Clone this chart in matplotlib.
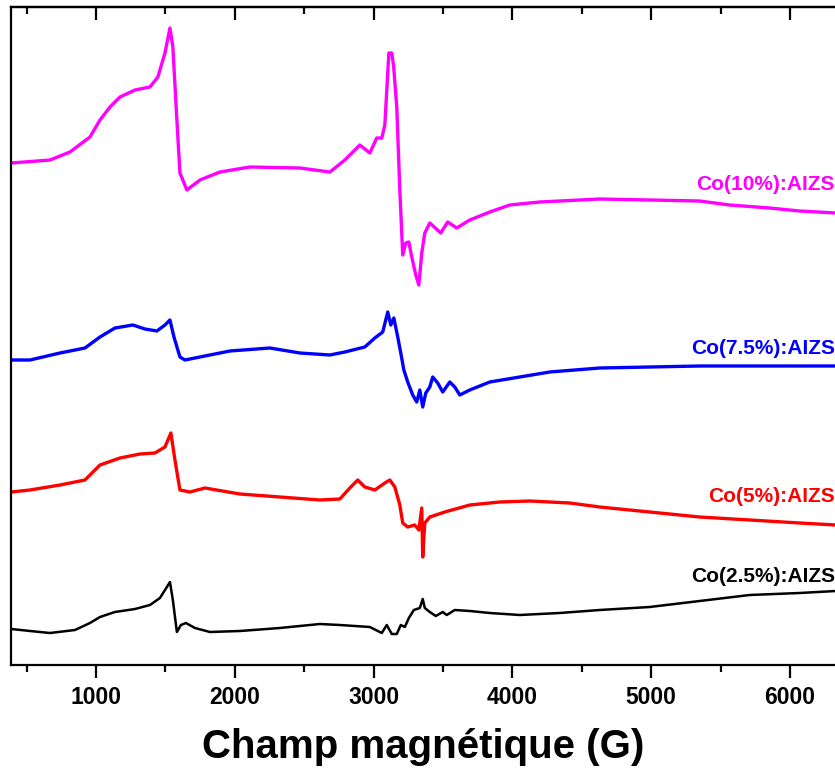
import matplotlib
matplotlib.use('Agg')
import matplotlib.pyplot as plt
from matplotlib.ticker import MultipleLocator

plt.rcParams['font.family'] = ['Liberation Sans', 'DejaVu Sans']
plt.rcParams['font.weight'] = 'bold'

# magnetic field (G) and EPR intensity (a.u., curves stacked with offset)
field_10 = [390, 669, 813, 957, 1029, 1101, 1173, 1281, 1389, 1446, 1497, 1533, 1554, 1583,
            1605, 1655, 1749, 1893, 2109, 2469, 2685, 2793, 2901, 2973, 3023, 3059, 3081,
            3110, 3131, 3145, 3167, 3189, 3210, 3232, 3254, 3275, 3304, 3326, 3347, 3369,
            3405, 3484, 3534, 3599, 3693, 3837, 3981, 4197, 4629, 4989, 5349, 5565, 5853,
            6069, 6330]
int_10 = [502, 505, 513, 528, 545, 558, 568, 575, 578, 588, 612, 637, 618, 545,
          492, 475, 485, 493, 498, 497, 493, 505, 520, 512, 527, 527, 540,
          612, 612, 598, 558, 475, 410, 422, 423, 408, 390, 380, 412, 432,
          442, 432, 443, 437, 445, 453, 460, 463, 466, 465, 464, 460, 457,
          454, 452]

field_75 = [390, 525, 741, 921, 1029, 1137, 1266, 1353, 1439, 1497, 1533, 1562, 1605, 1641,
            1749, 1965, 2253, 2469, 2685, 2793, 2937, 3009, 3066, 3102, 3124, 3146, 3174,
            3196, 3218, 3246, 3282, 3311, 3333, 3354, 3376, 3405, 3426, 3462, 3498, 3549,
            3585, 3621, 3693, 3837, 4053, 4269, 4629, 4989, 5349, 5709, 6330]
int_75 = [305, 305, 312, 317, 328, 337, 340, 336, 334, 340, 345, 328, 308, 305,
          308, 314, 317, 312, 310, 313, 318, 327, 333, 353, 340, 347, 328,
          312, 295, 283, 270, 263, 275, 258, 272, 278, 288, 282, 273, 283,
          278, 270, 275, 283, 288, 293, 297, 298, 299, 299, 299]

field_5 = [390, 525, 741, 921, 1029, 1173, 1317, 1425, 1497, 1540, 1569, 1605, 1677, 1785,
           2037, 2325, 2613, 2757, 2829, 2886, 2937, 3009, 3081, 3117, 3153, 3189, 3210,
           3246, 3297, 3326, 3347, 3354, 3369, 3405, 3513, 3693, 3909, 4125, 4413, 4629,
           4989, 5349, 5709, 6069, 6330]
int_5 = [173, 175, 180, 185, 200, 207, 211, 212, 218, 232, 205, 175, 173, 177,
         171, 168, 165, 166, 177, 185, 178, 175, 182, 185, 178, 160, 142,
         138, 140, 135, 157, 108, 142, 148, 153, 160, 163, 164, 162, 158,
         153, 148, 145, 142, 140]

field_25 = [390, 525, 669, 849, 957, 1029, 1137, 1281, 1389, 1461, 1511, 1533, 1554, 1583,
            1612, 1648, 1713, 1821, 2037, 2325, 2613, 2757, 2973, 3059, 3095, 3131, 3167,
            3196, 3225, 3254, 3290, 3333, 3354, 3369, 3405, 3448, 3498, 3527, 3585, 3693,
            3837, 4053, 4341, 4629, 4989, 5349, 5709, 6069, 6330]
int_25 = [36, 34, 32, 35, 42, 48, 53, 56, 60, 67, 78, 83, 65, 33,
          40, 42, 37, 33, 34, 37, 41, 40, 38, 32, 40, 31, 31,
          40, 38, 47, 55, 57, 66, 57, 53, 49, 53, 50, 55, 54,
          52, 50, 52, 55, 58, 64, 70, 72, 74]

series = [
    (field_10, int_10, '#FF00FF', 'Co(10%):AIZS', 185),
    (field_75, int_75, '#0000FF', 'Co(7.5%):AIZS', 348),
    (field_5, int_5, '#FF0000', 'Co(5%):AIZS', 496),
    (field_25, int_25, '#000000', 'Co(2.5%):AIZS', 576),
]

fig = plt.figure(figsize=(8.35, 7.73), dpi=100)
ax = fig.add_axes([11 / 835, 108 / 773, 1 - 11 / 835, 658 / 773])

for fx, fy, col, name, ypix in series:
    lw = 1.8 if col == '#000000' else 2.4
    ax.plot(fx, fy, color=col, lw=lw)
    ax.text(1.0, (665 - ypix) / 658, name, transform=ax.transAxes, ha='right',
            va='center', color=col, fontsize=15, fontweight='bold')

ax.set_xlim(388, 6324)
ax.set_ylim(0, 658)
ax.xaxis.set_major_locator(MultipleLocator(1000))
ax.xaxis.set_minor_locator(MultipleLocator(500))
ax.set_yticks([])
ax.spines['right'].set_visible(False)
for s in ['left', 'top', 'bottom']:
    ax.spines[s].set_linewidth(1.6)
ax.tick_params(axis='x', which='major', direction='out', length=9, width=1.6,
               top=False, labelsize=16.5, pad=6)
ax.tick_params(axis='x', which='minor', direction='out', length=5, width=1.6, top=False)
for lbl in ax.get_xticklabels():
    lbl.set_fontweight('bold')

# top axis mirrored ticks pointing inward
top = ax.secondary_xaxis('top')
top.xaxis.set_major_locator(MultipleLocator(1000))
top.xaxis.set_minor_locator(MultipleLocator(500))
top.tick_params(which='major', direction='in', length=9, width=1.6, labeltop=False)
top.tick_params(which='minor', direction='in', length=5, width=1.6)
top.spines['top'].set_linewidth(1.6)

ax.set_xlabel('Champ magnétique (G)', fontsize=29, fontweight='bold', labelpad=14)

fig.savefig('out.png', dpi=100)
